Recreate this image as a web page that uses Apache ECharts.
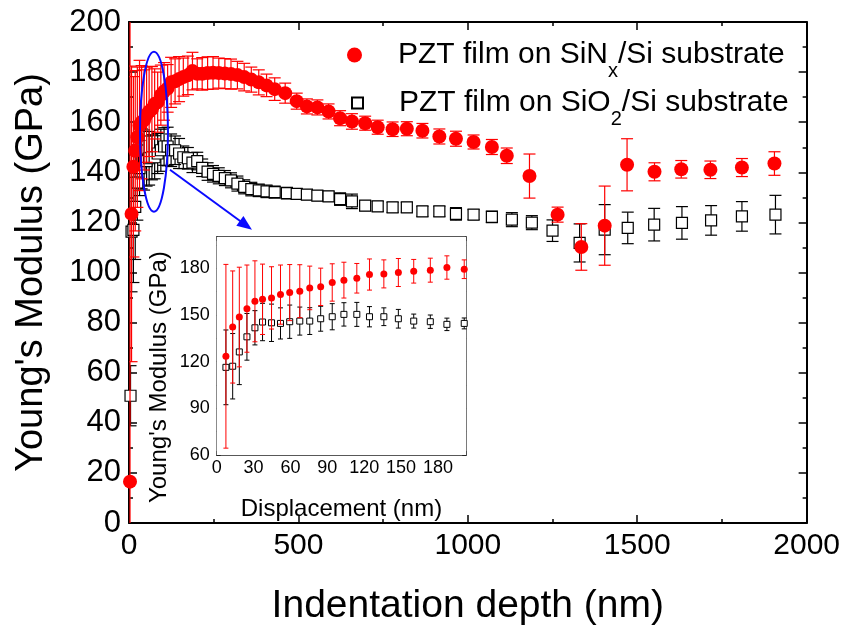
<!DOCTYPE html>
<html>
<head>
<meta charset="utf-8">
<script src="https://cdn.jsdelivr.net/npm/echarts@6/dist/echarts.min.js"></script>
<style>
  html, body { margin: 0; padding: 0; background: #fff; }
  #chart { width: 843px; height: 631px; }
</style>
</head>
<body>
<div id="chart"></div>
<script>
// PZT film on SiNx/Si: indentation depth (nm), Young's modulus (GPa), standard deviation (GPa)
const sinDepth = [3, 7.5, 13, 18.4, 24.6, 31.1, 37.3, 44.6, 51.9, 59.4, 67.6, 75.7, 84.6, 94, 103.5, 114, 124.3, 136, 147.8, 160.3, 173.8, 187.3, 201.4,
  216, 232, 248, 265, 283, 301, 320, 340, 361, 383, 406, 430,
  461, 495, 525, 556, 589, 623, 658, 697, 734, 778, 820, 866, 916, 965, 1017, 1071, 1115, 1182,
  1265, 1335, 1404, 1470, 1551, 1630, 1716, 1809, 1905];
const sinModulus = [16.5, 123.4, 142.2, 148.6, 154, 158.7, 160, 160.9, 163, 164.3, 165.2, 167.3, 168, 170.8, 172.3, 173.5, 175.9, 176.3, 177.2, 178, 178.7, 180.4, 179.3,
  179.3, 179.6, 179.7, 179.6, 179.4, 179.2, 178.8, 178, 177, 175.9, 174.7, 173.2,
  171.6, 168.4, 166.3, 165.9, 164.3, 161.6, 160.3, 159.6, 158, 157.2, 157.4, 156.6, 154.3, 153.4, 152.1, 150.1, 146.6, 138.5,
  123.1, 110.2, 118.7, 143, 140.2, 141.2, 141, 141.9, 143.5];
const sinError = [190, 59, 36, 32, 28, 26, 22.6, 20, 19, 18, 17, 14, 12, 12, 11.5, 9.5, 10, 9, 9, 7.6, 7.7, 7.5, 6,
  6.5, 6.5, 6.5, 6, 6, 6, 5.5, 5.5, 5, 5, 4.5, 4.5,
  4, 3.2, 3, 3, 3, 3, 3.1, 2.8, 2.8, 2.9, 2.8, 2.9, 3, 3, 2.8, 3, 3.1, 8.8,
  3, 9.3, 15.8, 10.4, 3.6, 3.5, 3.5, 3.6, 4.7];

// PZT film on SiO2/Si
const sioDepth = [4.5, 7.5, 13, 18.4, 24.6, 31.1, 37.3, 44.6, 51.9, 59.4, 67.6, 75.7, 84.6, 94, 103.5, 114, 124.3, 136, 147.8, 160.3, 173.8, 187.3, 201.4,
  216, 232, 248, 265, 283, 301, 320, 340, 361, 383, 406, 430,
  466, 495, 525, 556, 589, 623, 658, 697, 734, 778, 820, 866, 916, 965, 1017, 1071, 1130, 1189,
  1250, 1330, 1404, 1472, 1550, 1632, 1718, 1809, 1908];
const sioModulus = [50.8, 116.3, 117, 126.2, 135.9, 141.7, 145.4, 144.9, 144.5, 145.6, 146, 146, 147.5, 148.8, 150.3, 150.3, 148.8, 148.8, 147.5, 146, 145.6, 143.9, 144.5,
  141.8, 140.3, 139.4, 138.6, 137.7, 136.8, 135.5, 134.2, 133.3, 132.8, 132.4, 132.1,
  131.7, 131.4, 131.1, 130.7, 130.4, 129.3, 128.4, 126.7, 126.4, 126, 126, 124.4, 124.4, 123.4, 123.1, 122.2, 121.1, 119.9,
  116.7, 111.8, 117.1, 117.8, 119.1, 119.8, 120.8, 122.4, 123.1];
const sioError = [12, 24, 21, 21, 15, 11, 12, 12, 10, 10.7, 9, 8.6, 8, 8.4, 7.5, 7.7, 6.5, 5.7, 6, 4.5, 4.3, 4, 3.5,
  3.5, 3.5, 3.3, 3.2, 3, 3, 3, 2.8, 2.7, 2.5, 2.5, 2.4,
  2.3, 2, 2, 2, 2, 2.5, 2.9, 2, 2, 2, 2, 2, 2, 2.5, 2, 2.3, 2.8, 2.8,
  4.3, 7.6, 10, 6.3, 6.5, 6.5, 5.9, 5.9, 7.7];

// Axis ranges
const mainX = { min: 0, max: 2000, major: 500 };
const mainY = { min: 0, max: 200, major: 20 };
const insetX = { min: 0, max: 203, tick: 15, label: 30 };
const insetY = { min: 60, max: 200, tick: 15, label: 30 };

const FONT = '"Liberation Sans", Arial, Helvetica, sans-serif';
const RED = '#ff0000';
const BLUE = '#0a0aff';

const points = (d, m) => d.map((x, i) => [x, m[i]]);
const bars = (d, m, e) => d.map((x, i) => [x, m[i] - e[i], m[i] + e[i]]);
const insetIdx = (d, m) => d.map((_, i) => i).filter(i => d[i] <= insetX.max && m[i] >= insetY.min);
const pick = (arr, idx) => idx.map(i => arr[i]);

const sinIn = insetIdx(sinDepth, sinModulus);
const sioIn = insetIdx(sioDepth, sioModulus);

function errorBars(name, xi, yi, data, color, cap, width, z) {
  return {
    type: 'custom', name, xAxisIndex: xi, yAxisIndex: yi, data, z, clip: true, silent: true,
    encode: { x: 0, y: [1, 2] },
    renderItem(params, api) {
      const x = api.value(0);
      const lo = api.coord([x, api.value(1)]);
      const hi = api.coord([x, api.value(2)]);
      const style = { stroke: color, lineWidth: width, fill: null };
      return {
        type: 'group',
        children: [
          { type: 'line', shape: { x1: hi[0], y1: hi[1], x2: lo[0], y2: lo[1] }, style },
          { type: 'line', shape: { x1: hi[0] - cap, y1: hi[1], x2: hi[0] + cap, y2: hi[1] }, style },
          { type: 'line', shape: { x1: lo[0] - cap, y1: lo[1], x2: lo[0] + cap, y2: lo[1] }, style }
        ]
      };
    }
  };
}

function mainAxis(kind, pos, range, showLabel, extra) {
  return Object.assign({
    type: 'value', gridIndex: 0, position: pos,
    min: range.min, max: range.max, interval: range.major,
    axisLine: { show: true, onZero: false, lineStyle: { color: '#000', width: 2 } },
    axisTick: { show: true, inside: true, length: 8, lineStyle: { color: '#000', width: 1.5 } },
    minorTick: { show: true, splitNumber: 2, length: 4, lineStyle: { color: '#000', width: 1.5 } },
    splitLine: { show: false },
    minorSplitLine: { show: false },
    axisLabel: {
      show: showLabel, color: '#000', fontFamily: FONT, fontSize: kind === 'x' ? 30 : 31, margin: 8,
      formatter: v => String(v)
    }
  }, extra || {});
}

function insetAxis(kind, pos, range, showLabel, extra) {
  return Object.assign({
    type: 'value', gridIndex: 1, position: pos,
    min: range.min, max: range.max, interval: range.tick,
    axisLine: { show: true, onZero: false, lineStyle: { color: '#222', width: 1.5 } },
    axisTick: { show: true, inside: true, length: 4, lineStyle: { color: '#222', width: 1 } },
    splitLine: { show: false },
    axisLabel: {
      show: showLabel, color: '#000', fontFamily: FONT, fontSize: 18, margin: kind === 'x' ? 4 : 7,
      formatter: v => (v % range.label === 0 ? String(v) : '')
    }
  }, extra || {});
}

const legendRich = {
  g: { width: 31, fontSize: 30, lineHeight: 36 },
  t: { fontSize: 30, lineHeight: 36, fontFamily: FONT, color: '#000' },
  s: { fontSize: 20, lineHeight: 12, padding: [32, 0, 0, 0], fontFamily: FONT, color: '#000' }
};

const chart = echarts.init(document.getElementById('chart'));

chart.setOption({
  animation: false,
  backgroundColor: '#fff',
  textStyle: { fontFamily: FONT },
  grid: [
    { left: 129, top: 22, width: 678, height: 502, containLabel: false },
    { left: 216.7, top: 237, width: 249.5, height: 218, containLabel: false, show: true, backgroundColor: '#fff', borderWidth: 0, z: 5 }
  ],
  xAxis: [
    mainAxis('x', 'bottom', mainX, true, {
      name: 'Indentation depth (nm)', nameLocation: 'middle', nameGap: 64,
      nameTextStyle: { fontSize: 39, color: '#000', fontFamily: FONT }
    }),
    mainAxis('x', 'top', mainX, false),
    insetAxis('x', 'bottom', insetX, true, {
      name: 'Displacement (nm)', nameLocation: 'middle', nameGap: 42,
      nameTextStyle: { fontSize: 24, color: '#000', fontFamily: FONT }
    }),
    insetAxis('x', 'top', insetX, false)
  ],
  yAxis: [
    mainAxis('y', 'left', mainY, true, {
      name: "Young's Modulus (GPa)", nameLocation: 'middle', nameGap: 78,
      nameTextStyle: { fontSize: 38, color: '#000', fontFamily: FONT }
    }),
    mainAxis('y', 'right', mainY, false),
    insetAxis('y', 'left', insetY, true),
    insetAxis('y', 'right', insetY, false)
  ],
  legend: [
    {
      data: [{ name: 'SiNx', icon: 'circle' }], left: 347, top: 29, padding: 0,
      itemWidth: 15, itemHeight: 15, selectedMode: false,
      formatter: () => '{g| }{t|PZT film on SiN}{s|x}{t|/Si substrate}',
      textStyle: { rich: legendRich }
    },
    {
      data: [{ name: 'SiO2', icon: 'rect' }], left: 351, top: 77, padding: 0,
      itemWidth: 11, itemHeight: 11, selectedMode: false,
      formatter: () => '{g| }{t|PZT film on SiO}{s|2}{t|/Si substrate}',
      textStyle: { rich: legendRich }
    }
  ],
  series: [
    // main panel
    errorBars('SiO2 err', 0, 0, bars(sioDepth, sioModulus, sioError), '#000', 6, 1.2, 2),
    {
      type: 'scatter', name: 'SiO2', xAxisIndex: 0, yAxisIndex: 0, z: 3,
      data: points(sioDepth, sioModulus), symbol: 'rect', symbolSize: 11,
      itemStyle: { color: '#fff', borderColor: '#000', borderWidth: 1.2, opacity: 1 }
    },
    errorBars('SiNx err', 0, 0, bars(sinDepth, sinModulus, sinError), RED, 6, 1.2, 4),
    {
      type: 'scatter', name: 'SiNx', xAxisIndex: 0, yAxisIndex: 0, z: 5,
      data: points(sinDepth, sinModulus), symbol: 'circle', symbolSize: 14,
      itemStyle: { color: RED, opacity: 1 }
    },
    // inset panel
    errorBars('SiO2 inset err', 2, 2, bars(pick(sioDepth, sioIn), pick(sioModulus, sioIn), pick(sioError, sioIn)), '#000', 2.5, 1, 6),
    {
      type: 'scatter', name: 'SiO2 inset', xAxisIndex: 2, yAxisIndex: 2, z: 7,
      data: points(pick(sioDepth, sioIn), pick(sioModulus, sioIn)), symbol: 'rect', symbolSize: 6,
      itemStyle: { color: '#fff', borderColor: '#000', borderWidth: 1, opacity: 1 }
    },
    errorBars('SiNx inset err', 2, 2, bars(pick(sinDepth, sinIn), pick(sinModulus, sinIn), pick(sinError, sinIn)), RED, 2.5, 1, 8),
    {
      type: 'scatter', name: 'SiNx inset', xAxisIndex: 2, yAxisIndex: 2, z: 9,
      data: points(pick(sinDepth, sinIn), pick(sinModulus, sinIn)), symbol: 'circle', symbolSize: 7,
      itemStyle: { color: RED, opacity: 1 }
    }
  ]
});

// Ellipse around the shallow-depth region and the arrow pointing to the inset,
// placed in data coordinates of the main panel.
const px = p => chart.convertToPixel({ gridIndex: 0 }, p);
const c = px([73.7, 156.2]);
const ex = px([73.7 + 41.3, 156.2 + 31.9]);
const s = px([121, 141]);
const t = px([363, 117.1]);
const dx = t[0] - s[0], dy = t[1] - s[1];
const len = Math.hypot(dx, dy);
const ux = dx / len, uy = dy / len;
const head = 15, half = 6;
const base = [t[0] - ux * head, t[1] - uy * head];
const insetLabelPos = chart.convertToPixel({ xAxisIndex: 2, yAxisIndex: 2 }, [0, 110]);

chart.setOption({
  graphic: [
    {
      type: 'ellipse', z: 20,
      shape: { cx: c[0], cy: c[1], rx: Math.abs(ex[0] - c[0]), ry: Math.abs(ex[1] - c[1]) },
      style: { fill: null, stroke: BLUE, lineWidth: 2 }
    },
    {
      type: 'line', z: 20,
      shape: { x1: s[0], y1: s[1], x2: base[0] + ux * 2, y2: base[1] + uy * 2 },
      style: { stroke: BLUE, lineWidth: 2 }
    },
    {
      type: 'polygon', z: 20,
      shape: { points: [t, [base[0] - uy * half, base[1] + ux * half], [base[0] + uy * half, base[1] - ux * half]] },
      style: { fill: BLUE }
    },
    {
      type: 'text', z: 20,
      x: insetLabelPos[0] - 57, y: insetLabelPos[1], rotation: Math.PI / 2,
      style: { text: "Young's Modulus (GPa)", fontSize: 24, fontFamily: FONT, fill: '#000', align: 'center', verticalAlign: 'middle' }
    }
  ]
});
</script>
</body>
</html>
